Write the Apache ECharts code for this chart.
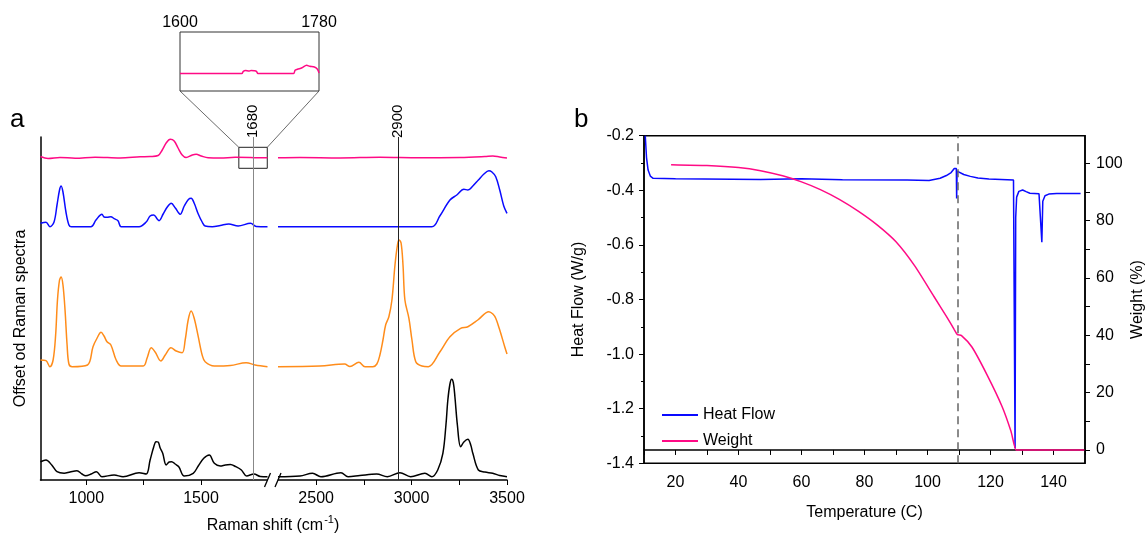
<!DOCTYPE html>
<html><head><meta charset="utf-8">
<script src="https://cdn.jsdelivr.net/npm/echarts@6/dist/echarts.min.js"></script>
<style>html,body{margin:0;padding:0;background:#fff}#c{width:1147px;height:533px}</style>
</head><body><div id="c"></div>
<script>
// ---------- Panel a: Raman spectra (wavenumber, intensity above own baseline) ----------
const ramanLeftRange = [800, 1790];
const ramanRightRange = [2300, 3500];
const ramanLeftTicks = [1000, 1250, 1500];
const ramanLeftLabels = [1000, 1500];
const ramanRightTicks = [2500, 2750, 3000, 3250, 3500];
const ramanRightLabels = [2500, 3000, 3500];

const pinkSpec = [[800,1.2],[833,-0.8],[885,0.2],[951,-0.5],[1038,0.5],[1147,-0.3],[1235,0.9],[1278,1.2],[1313,2.2],[1331,7.7],[1348,14.7],[1366,18.4],[1383,16.7],[1400,9.7],[1418,2.7],[1435,0.2],[1462,2.7],[1479,3.4],[1501,1.7],[1531,-0.1],[1584,-0.3],[1649,0.4],[1716,0.2],[1760,-0.1],[1790,0],
[2300,-0.1],[2415,0.2],[2625,-0.2],[2834,0.4],[3044,-0.1],[3253,0.3],[3384,1.2],[3426,1.7],[3462,0.7],[3500,-0.3]];

const blueSpec = [[800,3.4],[824,4.4],[841,0],[859,4.7],[872,21.7],[883,36.7],[890,40.7],[898,34.7],[911,14.7],[924,1.7],[935,0],[1020,0],[1042,6.7],[1068,12.4],[1077,9.7],[1090,9.4],[1107,10],[1121,8],[1138,6],[1152,0],[1230,0],[1261,4.7],[1278,10.7],[1294,11.7],[1309,7.7],[1317,6],[1335,12.7],[1353,19.7],[1370,23.4],[1388,18.7],[1403,13.7],[1409,12.4],[1427,20.7],[1445,27.2],[1457,28.4],[1470,23.7],[1488,12.7],[1505,4.7],[1518,0.7],[1549,0],[1584,1.2],[1621,2.7],[1662,0.7],[1716,3.4],[1741,0.2],[1790,0],
[2300,0],[3106,0],[3148,10.7],[3201,26.7],[3237,31.7],[3274,37.4],[3295,36.7],[3321,40.7],[3350,46.7],[3379,52.7],[3405,56],[3421,54.7],[3441,50],[3462,36.7],[3483,20.7],[3500,13.4]];

const orangeSpec = [[800,6],[824,5.3],[841,-0.7],[855,6],[866,31],[874,66],[883,86],[890,89],[898,81],[907,56],[916,21],[924,2],[938,-0.7],[1005,1],[1029,19.3],[1047,28],[1064,33.7],[1077,30],[1090,24.3],[1107,21],[1130,6],[1152,0],[1248,0],[1265,8],[1283,18.3],[1300,14],[1325,5],[1344,11],[1369,18.3],[1392,15],[1418,13.3],[1431,26],[1444,46],[1457,55],[1470,48],[1488,29.3],[1505,11],[1518,4.3],[1558,0],[1628,0.5],[1697,3.3],[1736,1],[1790,-0.7],
[2300,-0.7],[2520,0],[2649,2],[2677,-0.5],[2724,3.7],[2756,-0.7],[2797,-0.7],[2818,2],[2834,11],[2850,26],[2864,41],[2881,49.3],[2897,66],[2913,101],[2926,121],[2934,126],[2945,123],[2955,101],[2965,66],[2986,47.7],[3002,26],[3022,4.3],[3054,0],[3088,-0.7],[3148,14],[3201,29.3],[3257,37.7],[3295,39.3],[3347,46],[3405,54.3],[3426,52],[3441,47.7],[3462,36],[3488,19.3],[3500,12]];

const blackSpec = [[800,15],[824,16.7],[849,11.7],[872,5],[903,3.4],[929,4.7],[959,6],[981,2.7],[997,1],[1021,2.7],[1044,5],[1068,0],[1121,1.7],[1160,0],[1230,4],[1261,2.7],[1278,16.7],[1294,30],[1304,35],[1313,34.7],[1322,28.7],[1333,23.4],[1348,11.7],[1361,14.7],[1372,15],[1387,12.7],[1403,10],[1427,0.7],[1466,3.4],[1488,10.7],[1512,18.4],[1536,21.7],[1558,13.4],[1584,10.7],[1606,11.7],[1628,12.2],[1652,10],[1676,6.7],[1699,0.7],[1731,2.7],[1759,0.2],[1790,0],
[2300,0],[2415,0.7],[2481,3.4],[2525,0],[2630,4],[2667,0],[2729,1.2],[2817,2.7],[2873,0],[2939,4],[2995,0],[3070,3.4],[3106,0],[3137,6.7],[3164,23.4],[3180,51.7],[3190,76.7],[3201,92.7],[3210,97.4],[3219,93.7],[3227,80],[3240,51.7],[3257,30],[3274,34.7],[3295,37.4],[3310,31.7],[3321,23.4],[3350,6.7],[3384,4.7],[3425,3.4],[3462,1.2],[3500,0]];

const spectrumOffsets = {pink: 322.3, blue: 253.3, orange: 114, black: 3.3};
const ramanYMax = 343;

// inset: pink trace 1600-1780
const insetRange = [1600, 1780];
const insetPink = [[1600,17.4],[1680,17.4],[1682,19.7],[1685,20.4],[1689,19.9],[1692,20.4],[1696,20.2],[1699,19.7],[1701,17.4],[1747,17.4],[1749,20.7],[1752,21.7],[1758,23.2],[1764,25.7],[1768,24.7],[1774,24],[1778,21.7],[1780,18]];
const insetYMax = 59;
// zoom box on the main pink trace [x1,y1,x2,y2]
const zoomBox = [1665, 311.7, 1789, 332.7];
// annotation lines: label text and drawn position on the axis
const annotLines = [{text:'1680', at:1728, color:'#888'}, {text:'2900', at:2928, color:'#222'}];

// ---------- Panel b: DSC / TGA ----------
const tempRange = [10, 150];
const tempTicks = [10,20,30,40,50,60,70,80,90,100,110,120,130,140,150];
const tempLabels = [20,40,60,80,100,120,140];
const heatFlowRange = [-1.4, -0.2];
const weightRange = [-4.65, 109.6];
const weightTicks = [0,10,20,30,40,50,60,70,80,90,100];
const weightLabels = [0,20,40,60,80,100];
const dashedAt = 109.5;

const heatFlow = [[10.4,-0.2],[10.8,-0.28],[11.3,-0.326],[12,-0.348],[12.9,-0.356],[20,-0.358],[47,-0.36],[60,-0.358],[73,-0.361],[93.5,-0.362],[100.5,-0.364],[104,-0.356],[106,-0.346],[107.5,-0.335],[108.5,-0.32],[108.9,-0.314],[109.15,-0.32],[109.25,-0.43],[109.4,-0.33],[109.9,-0.333],[111.5,-0.342],[113.6,-0.349],[116,-0.355],[119.5,-0.359],[127.3,-0.362],[127.6,-0.366],[127.8,-1.345],[128.0,-0.5],[128.3,-0.425],[129,-0.404],[130.2,-0.399],[131.3,-0.405],[132.5,-0.411],[135.4,-0.413],[136.0,-0.42],[136.3,-0.59],[136.6,-0.44],[137.3,-0.42],[138.5,-0.414],[141,-0.412],[148.6,-0.412]];

const weight = [[18.6,99.5],[30,99.2],[40,98.5],[47,97.4],[54,95.6],[60,93.5],[66,90.8],[72,87.4],[78,83.3],[84,78.5],[90,72.6],[96,64.1],[102,53.6],[106,46.6],[108.5,42.0],[109.5,40.2],[110.8,39.9],[114.1,35.9],[118.9,26.2],[123.7,15.1],[126.5,6.5],[128.1,0],[128.6,0],[140,0],[149.8,0]];

// ---------- build ----------
const F = '"Liberation Sans", Arial, sans-serif';
const txt = {color:'#000', fontFamily:F, fontSize:16};
const C = {pink:'#ff0a85', blue:'#0a0aff', orange:'#ff8c1a', black:'#000'};
const plain = v => String(v);

function seg(spec, off, r){ return spec.filter(p=>p[0]>=r[0] && p[0]<=r[1]).map(p=>[p[0], +(p[1]+off).toFixed(2)]); }

const axLine = {show:true, lineStyle:{color:'#000', width:1.5}};
const series = [];
['pink','blue','orange','black'].forEach(k=>{
  const spec = {pink:pinkSpec, blue:blueSpec, orange:orangeSpec, black:blackSpec}[k];
  [ramanLeftRange, ramanRightRange].forEach((r, i)=>{
    const s = {type:'line', xAxisIndex:i, yAxisIndex:i, data:seg(spec, spectrumOffsets[k], r), showSymbol:false, smooth:0.35, animation:false,
      lineStyle:{color:C[k], width:1.5}, itemStyle:{color:C[k]}, z:3};
    if (k==='pink' && i===0) {
      s.markArea = {silent:true, itemStyle:{color:'rgba(0,0,0,0)', borderColor:'#222', borderWidth:1},
        data:[[{coord:[zoomBox[0], zoomBox[1]]},{coord:[zoomBox[2], zoomBox[3]]}]]};
    }
    if (k==='black') {
      const a = annotLines[i];
      s.markLine = {silent:true, symbol:'none', animation:false,
        lineStyle:{color:a.color, width:1, type:'solid'}, label:{show:false},
        data:[{xAxis:a.at}]};
    }
    series.push(s);
  });
});
series.push({type:'line', xAxisIndex:2, yAxisIndex:2, data:insetPink, showSymbol:false, smooth:0.3, lineStyle:{color:C.pink, width:1.5}, animation:false});
series.push({name:'Heat Flow', type:'line', xAxisIndex:3, yAxisIndex:3, data:heatFlow, showSymbol:false, lineStyle:{color:C.blue, width:1.5}, itemStyle:{color:C.blue}, animation:false,
  markLine:{silent:true, symbol:'none', label:{show:false}, lineStyle:{color:'#666', width:1.5, type:[8,5]}, data:[{xAxis:dashedAt}]}});
series.push({name:'Weight', type:'line', xAxisIndex:3, yAxisIndex:4, data:weight, showSymbol:false, smooth:0.2, lineStyle:{color:C.pink, width:1.5}, itemStyle:{color:C.pink}, animation:false});

const option = {
  animation:false,
  backgroundColor:'#fff',
  grid:[
    {left:40.5, top:137, width:227, height:343},
    {left:278, top:137, width:229, height:343},
    {left:180, top:32, width:139, height:59, show:true, borderColor:'#333', borderWidth:1},
    {left:644, top:135.7, width:441, height:327.6, show:true, borderColor:'#000', borderWidth:1.5}
  ],
  xAxis:[
    {gridIndex:0, type:'value', min:ramanLeftRange[0], max:ramanLeftRange[1], axisLine:axLine,
      axisTick:{show:true, length:5, customValues:ramanLeftTicks, lineStyle:{color:'#000'}},
      axisLabel:{customValues:ramanLeftLabels, formatter:plain, margin:11, ...txt}, splitLine:{show:false}},
    {gridIndex:1, type:'value', min:ramanRightRange[0], max:ramanRightRange[1], axisLine:axLine,
      axisTick:{show:true, length:5, customValues:ramanRightTicks, lineStyle:{color:'#000'}},
      axisLabel:{customValues:ramanRightLabels, formatter:plain, margin:11, ...txt}, splitLine:{show:false}},
    {gridIndex:2, type:'value', position:'top', min:insetRange[0], max:insetRange[1], axisLine:{show:false}, axisTick:{show:false},
      axisLabel:{customValues:insetRange, formatter:plain, margin:1, ...txt}, splitLine:{show:false}},
    {gridIndex:3, type:'value', min:tempRange[0], max:tempRange[1], axisLine:axLine,
      axisTick:{show:true, length:5, customValues:tempTicks, lineStyle:{color:'#000'}},
      axisLabel:{customValues:tempLabels, formatter:plain, margin:11, ...txt}, splitLine:{show:false},
      name:'Temperature (C)', nameLocation:'middle', nameGap:41, nameTextStyle:txt}
  ],
  yAxis:[
    {gridIndex:0, type:'value', min:0, max:ramanYMax, axisLine:axLine, axisTick:{show:false}, axisLabel:{show:false}, splitLine:{show:false}},
    {gridIndex:1, type:'value', min:0, max:ramanYMax, show:false, splitLine:{show:false}},
    {gridIndex:2, type:'value', min:0, max:insetYMax, show:false, splitLine:{show:false}},
    {gridIndex:3, type:'value', position:'left', min:heatFlowRange[0], max:heatFlowRange[1], interval:0.2, axisLine:axLine,
      axisTick:{show:true, length:5, lineStyle:{color:'#000'}}, minorTick:{show:true, splitNumber:2, length:3, lineStyle:{color:'#000'}},
      axisLabel:{formatter:v=>v.toFixed(1), margin:10, ...txt}, splitLine:{show:false},
      name:'Heat Flow (W/g)', nameLocation:'middle', nameGap:57, nameRotate:90, nameTextStyle:txt},
    {gridIndex:3, type:'value', position:'right', min:weightRange[0], max:weightRange[1], axisLine:axLine,
      axisTick:{show:true, length:5, customValues:weightTicks, lineStyle:{color:'#000'}},
      axisLabel:{customValues:weightLabels, formatter:plain, margin:11, ...txt}, splitLine:{show:false},
      name:'Weight (%)', nameLocation:'middle', nameGap:45, nameRotate:90, nameTextStyle:txt}
  ],
  legend:{data:['Heat Flow','Weight'], orient:'vertical', left:657, top:402, itemWidth:36, itemHeight:2, itemGap:10, icon:'rect', textStyle:txt},
  series:series
};

const chart = echarts.init(document.getElementById('c'));
chart.setOption(option);

// decorations computed from the library's own scales
const p = (g, v) => chart.convertToPixel({gridIndex:g}, v);
const insBL = p(2, [insetRange[0], 0]), insBR = p(2, [insetRange[1], 0]);
const boxTL = p(0, [zoomBox[0], zoomBox[3]]), boxTR = p(0, [zoomBox[2], zoomBox[3]]);
const axEnd = p(0, [ramanLeftRange[1], 0]), axStart = p(1, [ramanRightRange[0], 0]);
const yMid = p(0, [ramanLeftRange[0], ramanYMax/2]);
const lineEl = (x1,y1,x2,y2,w,c)=>({type:'line', shape:{x1,y1,x2,y2}, style:{stroke:c, lineWidth:w}, silent:true, z:10});
const g = [
  lineEl(insBL[0], insBL[1], boxTL[0], boxTL[1], 0.8, '#444'),
  lineEl(insBR[0], insBR[1], boxTR[0], boxTR[1], 0.8, '#444'),
  {type:'rect', shape:{x:axEnd[0]+0.5, y:axEnd[1]-8, width:axStart[0]-axEnd[0]-1, height:16}, style:{fill:'#fff'}, z:9, silent:true},
  lineEl(axEnd[0]-3, axEnd[1]+7, axEnd[0]+3, axEnd[1]-7, 1.3, '#000'),
  lineEl(axStart[0]-3, axStart[1]+7, axStart[0]+3, axStart[1]-7, 1.3, '#000'),
  {type:'text', x:10, y:133, style:{text:'a', font:'26px '+F, fill:'#000', verticalAlign:'bottom'}, z:10},
  {type:'text', x:574, y:133, style:{text:'b', font:'26px '+F, fill:'#000', verticalAlign:'bottom'}, z:10},
  {type:'text', x:yMid[0]-20, y:yMid[1]+10, rotation:Math.PI/2, style:{text:'Offset od Raman spectra', font:'16px '+F, fill:'#000', align:'center', verticalAlign:'middle'}, z:10},
  {type:'text', x:273, y:524, style:{text:'{n|Raman shift (cm}{s|-1}{n|)}', align:'center', verticalAlign:'middle',
     rich:{n:{fontFamily:F, fontSize:16, color:'#000', lineHeight:20, verticalAlign:'bottom'}, s:{fontFamily:F, fontSize:11, color:'#000', lineHeight:20, verticalAlign:'top', padding:[0,0,0,1]}}}, z:10}
];
annotLines.forEach((a, i)=>{
  const top = p(i, [a.at, ramanYMax]);
  g.push({type:'text', x:top[0], y:top[1]+1, rotation:Math.PI/2, style:{text:a.text, font:'15px '+F, fill:'#000', align:'left', verticalAlign:'middle'}, z:10});
});
chart.setOption({graphic:g});
</script></body></html>
